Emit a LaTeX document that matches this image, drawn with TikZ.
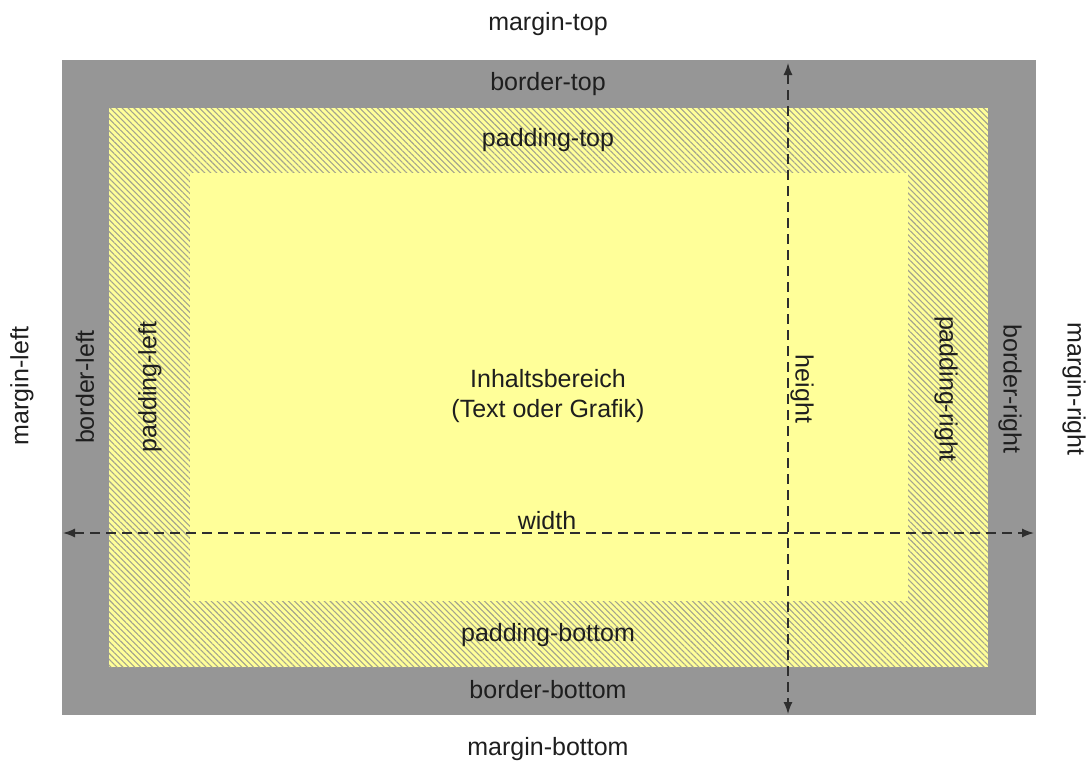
\documentclass[tikz,border=0pt]{standalone}
\usepackage{fontspec}
\setmainfont{Liberation Sans}
\usetikzlibrary{patterns.meta,arrows.meta}
\definecolor{bordergray}{HTML}{969696}
\definecolor{padyellow}{HTML}{FFFF99}
\definecolor{hatchgray}{HTML}{A4A48E}
\definecolor{ink}{HTML}{1E1E1E}
\definecolor{dimline}{HTML}{2E2E2E}
\begin{document}
\begin{tikzpicture}[x=1pt,y=-1pt,
  lbl/.style={font=\fontsize{25}{30}\selectfont, text=ink, inner sep=0pt, align=center},
  dimarrow/.style={draw=dimline, line width=1.4pt, dash pattern=on 10pt off 6pt,
    {Latex[length=12pt,width=9pt]}-{Latex[length=12pt,width=9pt]}},
  hatch/.style={pattern={Lines[angle=-45,distance=4.2pt,line width=1.1pt]}, pattern color=hatchgray}]
\useasboundingbox (0,0) rectangle (1088,764);

% border, padding and content areas
\fill[bordergray] (62,60) rectangle (1036,715);
\fill[padyellow] (109,108) rectangle (988,667);
\fill[hatch] (109,108) rectangle (988,667);
\fill[padyellow] (190,173) rectangle (908,601);

% end points of the dimension arrows
\coordinate (wl) at (63,533);
\coordinate (wr) at (1034,533);
\coordinate (ht) at (788,63);
\coordinate (hb) at (788,714);
\draw[dimarrow] (wl) -- (wr);
\draw[dimarrow] (ht) -- (hb);

% horizontal labels
\node[lbl] (mtop) at (548,24) {margin-top};
\node[lbl] (btop) at (548,84) {border-top};
\node[lbl] (ptop) at (548,140) {padding-top};
\node[lbl] (content) at (548,396) {Inhaltsbereich\\(Text oder Grafik)};
\node[lbl] (wlabel) at (547,521) {width};
\node[lbl] (pbot) at (548,635) {padding-bottom};
\node[lbl] (bbot) at (548,690) {border-bottom};
\node[lbl] (mbot) at (548,749) {margin-bottom};

% vertical labels
\node[lbl, rotate=90] (mleft) at (22,386) {margin-left};
\node[lbl, rotate=90] (bleft) at (85,387) {border-left};
\node[lbl, rotate=90] (pleft) at (150,387) {padding-left};
\node[lbl, rotate=-90] (hlabel) at (802,389) {height};
\node[lbl, rotate=-90] (pright) at (946,389) {padding-right};
\node[lbl, rotate=-90] (bright) at (1010,389) {border-right};
\node[lbl, rotate=-90] (mright) at (1074,389) {margin-right};
\end{tikzpicture}
\end{document}
